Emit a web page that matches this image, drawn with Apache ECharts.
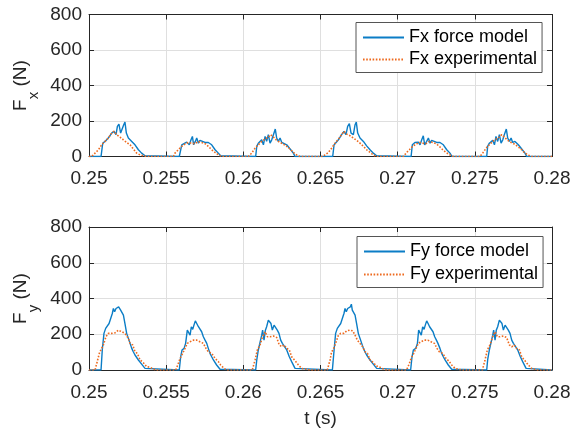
<!DOCTYPE html>
<html><head><meta charset="utf-8">
<script src="https://cdn.jsdelivr.net/npm/echarts@6/dist/echarts.min.js"></script>
<style>html,body{margin:0;padding:0;background:#fff}#c{width:584px;height:433px}</style>
</head><body><div id="c"></div>
<script>
// Time [s], force [N]
const fxModel = [[0.25,0],
 [0.25078,0],[0.25089,75],[0.25104,85],[0.25125,104],[0.25147,132],[0.25162,142],[0.25175,123],[0.25184,170],[0.25194,183],[0.25205,132],[0.25216,123],[0.25225,179],[0.25233,194],[0.25242,132],[0.25255,104],[0.25277,85],[0.25298,66],[0.2532,38],[0.25341,19],[0.25363,4],[0.25374,0],
 [0.25585,0],[0.25601,66],[0.25611,75],[0.25633,81],[0.2565,66],[0.25661,94],[0.2567,113],[0.25678,66],[0.25689,85],[0.25698,104],[0.25709,75],[0.25719,91],[0.2573,85],[0.25752,79],[0.25773,79],[0.25795,66],[0.25817,38],[0.25838,19],[0.25853,4],[0.2586,0],
 [0.2608,0],[0.26087,57],[0.26097,75],[0.26108,85],[0.26119,94],[0.2613,66],[0.26141,113],[0.26151,85],[0.26162,123],[0.26173,75],[0.26184,94],[0.26195,123],[0.26207,155],[0.26216,104],[0.26227,85],[0.26238,104],[0.26249,79],[0.26259,85],[0.26281,66],[0.26303,42],[0.26324,19],[0.26335,0],
 [0.26579,0],[0.26588,66],[0.26601,79],[0.26616,94],[0.26637,123],[0.26652,142],[0.26665,123],[0.26676,170],[0.26687,185],[0.26698,132],[0.26713,123],[0.26724,179],[0.26732,194],[0.26741,132],[0.26756,104],[0.26778,85],[0.26799,60],[0.26821,38],[0.26842,19],[0.26864,4],[0.26875,0],
 [0.27087,0],[0.27095,66],[0.27112,79],[0.27134,81],[0.27145,66],[0.27156,94],[0.27166,117],[0.27175,66],[0.27188,85],[0.27199,104],[0.2721,75],[0.2722,91],[0.27231,85],[0.27253,79],[0.27274,79],[0.27296,66],[0.27318,38],[0.27339,19],[0.27352,0],
 [0.27577,0],[0.27583,57],[0.27594,75],[0.27605,85],[0.27616,91],[0.27627,66],[0.27637,113],[0.27648,85],[0.27659,123],[0.2767,75],[0.27681,94],[0.27691,123],[0.27704,155],[0.27713,104],[0.27724,85],[0.27735,104],[0.27745,79],[0.2776,85],[0.27782,66],[0.27804,42],[0.27825,19],[0.27836,0],
 [0.28,0]];
const fxExp = [[0.25,0],
 [0.25017,0],[0.25028,9],[0.25039,19],[0.25061,38],[0.25082,66],[0.25104,85],[0.25125,104],[0.25147,132],[0.25162,142],[0.25179,123],[0.25201,109],[0.25223,94],[0.25244,79],[0.25266,66],[0.25287,42],[0.25309,19],[0.25331,9],[0.25352,4],[0.25374,0],
 [0.25547,0],[0.25557,19],[0.25579,38],[0.25601,57],[0.25622,70],[0.25644,79],[0.25665,75],[0.25687,72],[0.25709,85],[0.2573,79],[0.25752,72],[0.25773,57],[0.25795,38],[0.25817,23],[0.25838,9],[0.2586,0],
 [0.26033,0],[0.26054,19],[0.26076,47],[0.26097,66],[0.26119,85],[0.26141,98],[0.26162,109],[0.26177,123],[0.26195,109],[0.26216,91],[0.26238,79],[0.26259,70],[0.26281,57],[0.26303,42],[0.26324,23],[0.26346,9],[0.26367,0],
 [0.26514,0],[0.26529,9],[0.26551,23],[0.26572,47],[0.26594,75],[0.26616,98],[0.26637,123],[0.26652,142],[0.2667,126],[0.26691,117],[0.26713,104],[0.26734,91],[0.26756,75],[0.26778,57],[0.26799,38],[0.26821,23],[0.26842,9],[0.26864,0],
 [0.27037,0],[0.27054,19],[0.27076,38],[0.27097,57],[0.27119,70],[0.27141,79],[0.27162,75],[0.27184,72],[0.27205,85],[0.27227,79],[0.27249,72],[0.2727,57],[0.27292,38],[0.27313,23],[0.27339,9],[0.27361,0],
 [0.27534,0],[0.27551,19],[0.27573,47],[0.27594,66],[0.27616,85],[0.27637,98],[0.27659,109],[0.27674,123],[0.27691,109],[0.27713,91],[0.27735,79],[0.27756,70],[0.27778,57],[0.27799,42],[0.27821,23],[0.27843,9],[0.27868,0],
 [0.28,0]];
const fyModel = [[0.25,0],
 [0.25078,0],[0.25086,112],[0.25097,205],[0.25108,233],[0.25119,223],[0.2513,260],[0.2514,270],[0.25151,316],[0.25158,344],[0.25166,326],[0.25175,344],[0.25184,335],[0.25192,353],[0.25199,363],[0.25205,335],[0.25214,344],[0.25223,307],[0.25233,260],[0.25244,205],[0.25255,177],[0.25266,149],[0.25277,121],[0.25287,102],[0.25298,84],[0.2532,56],[0.25341,33],[0.25363,9],[0.25374,0],
 [0.25585,0],[0.25594,74],[0.25603,112],[0.25616,121],[0.25626,149],[0.25637,223],[0.25646,233],[0.25655,195],[0.25663,242],[0.25672,227],[0.2568,251],[0.25689,275],[0.25698,260],[0.25709,242],[0.25719,233],[0.2573,214],[0.25741,186],[0.25752,167],[0.25763,149],[0.25773,121],[0.25784,93],[0.25795,74],[0.25806,56],[0.25817,47],[0.25827,28],[0.25849,4],[0.2586,0],
 [0.2608,0],[0.26087,56],[0.26097,112],[0.26108,121],[0.26119,195],[0.26125,223],[0.26134,167],[0.26143,223],[0.26151,242],[0.26162,279],[0.26171,288],[0.26179,260],[0.26188,223],[0.26199,251],[0.2621,260],[0.2622,223],[0.26231,205],[0.26242,167],[0.26253,149],[0.26264,140],[0.26281,112],[0.26298,74],[0.26313,47],[0.26335,9],[0.26346,0],
 [0.26577,0],[0.26588,112],[0.26598,205],[0.26609,233],[0.2662,223],[0.26631,260],[0.26642,270],[0.26652,316],[0.26659,344],[0.26667,326],[0.26676,344],[0.26685,335],[0.26693,353],[0.267,368],[0.26706,335],[0.26715,344],[0.26724,307],[0.26734,260],[0.26745,205],[0.26756,177],[0.26767,149],[0.26778,121],[0.26788,102],[0.26799,84],[0.26821,56],[0.26842,33],[0.26864,9],[0.26875,0],
 [0.27084,0],[0.27093,74],[0.27102,112],[0.27117,121],[0.27128,149],[0.27136,223],[0.27145,233],[0.27153,195],[0.27162,242],[0.27171,227],[0.27179,251],[0.27188,275],[0.27197,260],[0.27207,242],[0.27218,233],[0.27229,214],[0.2724,186],[0.27251,167],[0.27261,149],[0.27274,121],[0.27285,93],[0.27296,74],[0.27307,56],[0.27318,47],[0.27328,28],[0.2735,4],[0.27357,0],
 [0.27577,0],[0.27583,56],[0.27594,112],[0.27605,121],[0.27616,195],[0.27622,223],[0.27631,167],[0.27639,223],[0.27648,242],[0.27659,279],[0.27668,288],[0.27676,260],[0.27685,223],[0.27696,251],[0.27706,260],[0.27717,223],[0.27728,205],[0.27739,167],[0.2775,149],[0.2776,140],[0.27778,112],[0.27795,74],[0.2781,47],[0.27832,9],[0.27843,0],
 [0.28,0]];
const fyExp = [[0.25,0],
 [0.25039,0],[0.25045,9],[0.25056,56],[0.25067,93],[0.25078,115],[0.25093,140],[0.2511,186],[0.25125,205],[0.25147,205],[0.25169,208],[0.2519,223],[0.25212,214],[0.25233,205],[0.25255,177],[0.25266,149],[0.25283,140],[0.25298,102],[0.25313,93],[0.25331,56],[0.25352,41],[0.25374,19],[0.25395,15],[0.25417,6],[0.25434,0],
 [0.25562,0],[0.25568,4],[0.25579,37],[0.2559,65],[0.25607,93],[0.25622,121],[0.25637,149],[0.25655,158],[0.25676,167],[0.25698,167],[0.25719,158],[0.25741,149],[0.25758,121],[0.25773,102],[0.25795,93],[0.25817,65],[0.25838,47],[0.25853,28],[0.25875,9],[0.25892,0],
 [0.26058,0],[0.26065,9],[0.26076,56],[0.26091,112],[0.26108,140],[0.26125,186],[0.26141,214],[0.26156,186],[0.26173,186],[0.26195,190],[0.26216,182],[0.26233,140],[0.26249,130],[0.26264,140],[0.26281,121],[0.26298,112],[0.26313,74],[0.26335,52],[0.26357,28],[0.26378,9],[0.26411,4],[0.26432,0],
 [0.26544,0],[0.26551,9],[0.26562,56],[0.26572,102],[0.26583,115],[0.26598,149],[0.26616,195],[0.26631,205],[0.26652,205],[0.2667,219],[0.26691,223],[0.26709,219],[0.26724,195],[0.26739,167],[0.26756,149],[0.26773,130],[0.26788,102],[0.26804,93],[0.26821,56],[0.26842,41],[0.26864,22],[0.26886,15],[0.26907,6],[0.26929,0],
 [0.27058,0],[0.27065,4],[0.27076,37],[0.27087,65],[0.27104,93],[0.27119,121],[0.27134,149],[0.27151,158],[0.27173,167],[0.27195,167],[0.27216,158],[0.27238,149],[0.27255,121],[0.2727,102],[0.27292,93],[0.27313,65],[0.27335,47],[0.2735,28],[0.27372,9],[0.27415,0],
 [0.27549,0],[0.27555,9],[0.27566,56],[0.27581,112],[0.27598,140],[0.27616,186],[0.27631,214],[0.27646,186],[0.27663,186],[0.27685,190],[0.27706,182],[0.27724,140],[0.27739,130],[0.27754,140],[0.27771,121],[0.27789,112],[0.27804,74],[0.27825,52],[0.27847,28],[0.27868,9],[0.27901,0],
 [0.28,0]];
const xRange = [0.25, 0.28], xStep = 0.005;
const yRange = [0, 800], yStep = 200;
const seriesNames = ['Fx force model', 'Fx experimental', 'Fy force model', 'Fy experimental'];

const FONT = "'Liberation Sans', Arial, Helvetica, sans-serif";
const AX = '#262626';
const BLUE = '#0B7DC6', ORANGE = '#EE6A1E';

function xAx(g, pos, extra) {
  return Object.assign({
    gridIndex: g, type: 'value', position: pos, min: xRange[0], max: xRange[1], interval: xStep,
    axisLine: { show: true, onZero: false, lineStyle: { color: AX, width: 1 } },
    axisTick: { show: true, inside: true, length: 5, lineStyle: { color: AX } },
    axisLabel: pos === 'bottom' ? { show: true, fontSize: 19, color: AX, margin: 13, fontFamily: FONT } : { show: false },
    splitLine: { show: pos === 'bottom', lineStyle: { color: '#dfdfdf', width: 1 } }
  }, extra || {});
}
function yAx(g, pos) {
  return {
    gridIndex: g, type: 'value', position: pos, min: yRange[0], max: yRange[1], interval: yStep,
    axisLine: { show: true, onZero: false, lineStyle: { color: AX, width: 1 } },
    axisTick: { show: true, inside: true, length: 5, lineStyle: { color: AX } },
    axisLabel: pos === 'left' ? { show: true, fontSize: 19, color: AX, margin: 7, fontFamily: FONT } : { show: false },
    splitLine: { show: pos === 'left', lineStyle: { color: '#dfdfdf', width: 1 } }
  };
}
function lineSeries(name, data, xi, yi, color, dotted) {
  return {
    type: 'line', name: name, data: data, xAxisIndex: xi, yAxisIndex: yi,
    symbol: 'none', showSymbol: false, animation: false,
    lineStyle: { color: color, width: dotted ? 1.6 : 1.4, type: dotted ? [1.6, 1.6] : 'solid' },
    itemStyle: { color: color }
  };
}
function legendAt(names, left, top, gap) {
  return {
    data: names, orient: 'vertical', left: left, top: top,
    padding: [6, 5, 4, 6], itemGap: gap, itemWidth: 41, itemHeight: 14,
    itemStyle: { opacity: 0, borderWidth: 0 },
    textStyle: { fontSize: 18, color: '#000', fontFamily: FONT, lineHeight: 18 },
    borderColor: '#555', borderWidth: 1, backgroundColor: '#fff', borderRadius: 0
  };
}
function yName(text, sub, x, y) {
  return {
    type: 'text', x: x, y: y, rotation: Math.PI / 2, z: 10,
    style: {
      text: '{f|' + text + '}{s|' + sub + '}{f| (N)}',
      align: 'center', verticalAlign: 'middle',
      rich: {
        f: { fontSize: 19, lineHeight: 20, fontFamily: FONT, fill: AX },
        s: { fontSize: 15, lineHeight: 15, padding: [27, 0, 0, 0], fontFamily: FONT, fill: AX }
      }
    }
  };
}

const chart = echarts.init(document.getElementById('c'), null, { renderer: 'canvas' });
chart.setOption({
  animation: false,
  backgroundColor: '#fff',
  textStyle: { fontFamily: FONT },
  grid: [
    { left: 89, right: 32, top: 14.5, height: 142 },
    { left: 89, right: 32, top: 227, height: 143 }
  ],
  xAxis: [
    xAx(0, 'bottom'), xAx(0, 'top'),
    xAx(1, 'bottom', { name: 't (s)', nameLocation: 'middle', nameGap: 39, nameTextStyle: { fontSize: 19, color: AX, fontFamily: FONT } }),
    xAx(1, 'top')
  ],
  yAxis: [ yAx(0, 'left'), yAx(0, 'right'), yAx(1, 'left'), yAx(1, 'right') ],
  legend: [
    legendAt([seriesNames[0], seriesNames[1]], 356, 22.5, 4),
    legendAt([seriesNames[2], seriesNames[3]], 357, 236.5, 5)
  ],
  graphic: [ yName('F', 'x', 20.5, 85.5), yName('F', 'y', 20.5, 298.5) ],
  series: [
    lineSeries(seriesNames[0], fxModel, 0, 0, BLUE, false),
    lineSeries(seriesNames[1], fxExp, 0, 0, ORANGE, true),
    lineSeries(seriesNames[2], fyModel, 2, 2, BLUE, false),
    lineSeries(seriesNames[3], fyExp, 2, 2, ORANGE, true)
  ]
});
</script></body></html>
